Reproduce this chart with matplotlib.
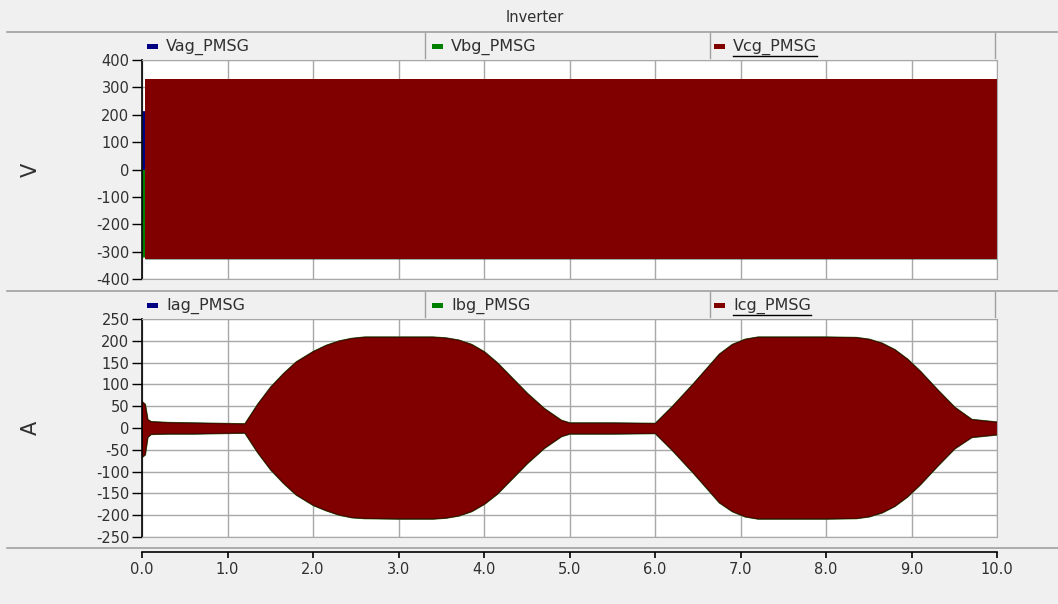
import matplotlib.pyplot as plt
from matplotlib.lines import Line2D
from matplotlib.patches import Rectangle

plt.rcParams['font.family'] = ['DejaVu Sans']

# phase voltage envelopes (V): short start-up transient, then steady +/-330 V
v_t = [0.0, 0.03, 0.035, 10.0]
vag_hi = [215, 215, 330, 330]
vag_lo = [-175, -175, -326, -326]
vbg_hi = [0, 0, 330, 330]
vbg_lo = [-320, -320, -326, -326]
vcg_t = [0.035, 10.0]
vcg_hi = [330, 330]
vcg_lo = [-326, -326]

# phase current envelopes (A)
i_t = [0.00, 0.03, 0.06, 0.10, 0.30, 0.60, 0.90, 1.20, 1.35, 1.50, 1.65, 1.80,
       2.00, 2.15, 2.30, 2.45, 2.60, 3.00, 3.40, 3.55, 3.70, 3.85, 4.00, 4.15,
       4.30, 4.50, 4.70, 4.90, 5.00, 5.50, 6.00, 6.20, 6.45, 6.75, 6.90, 7.05,
       7.20, 8.00, 8.35, 8.50, 8.65, 8.80, 8.95, 9.10, 9.30, 9.50, 9.70, 10.0]
i_hi = [60, 55, 20, 15, 13, 12, 11, 10, 55, 94, 125, 152,
        176, 190, 200, 206, 209, 209, 209, 207, 202, 192, 175, 150,
        120, 80, 45, 18, 12, 12, 11, 50, 103, 170, 192, 204,
        209, 209, 208, 204, 195, 180, 158, 130, 88, 48, 20, 14]
i_lo = [-65, -60, -20, -13, -12, -12, -11, -10, -55, -94, -125, -152,
        -176, -188, -198, -204, -206, -207, -207, -205, -200, -190, -173, -150,
        -120, -80, -45, -18, -12, -12, -11, -50, -103, -170, -190, -202,
        -207, -207, -206, -202, -193, -178, -156, -128, -86, -46, -20, -14]

names_v = ['Vag_PMSG', 'Vbg_PMSG', 'Vcg_PMSG']
names_i = ['Iag_PMSG', 'Ibg_PMSG', 'Icg_PMSG']
colors = ['#000080', '#008000', '#800000']
x_ticks = [0, 1, 2, 3, 4, 5, 6, 7, 8, 9, 10]
v_ticks = [-400, -300, -200, -100, 0, 100, 200, 300, 400]
i_ticks = [-250, -200, -150, -100, -50, 0, 50, 100, 150, 200, 250]

W, H = 1058, 604
BG = '#f0f0f0'
GRID = '#a8a8a8'
TXT = '#303030'
fig = plt.figure(figsize=(W / 100, H / 100), dpi=100, facecolor=BG)


def px_axes(x0, y0, x1, y1):
    return fig.add_axes([x0 / W, 1 - y1 / H, (x1 - x0) / W, (y1 - y0) / H])


def hline(y, x0=7, x1=W, color='#a0a0a0', lw=1.2):
    fig.add_artist(Line2D([x0 / W, x1 / W], [1 - y / H, 1 - y / H], color=color, lw=lw))


def vline(x, y0, y1, color='#a0a0a0', lw=1.0):
    fig.add_artist(Line2D([x / W, x / W], [1 - y0 / H, 1 - y1 / H], color=color, lw=lw))


def style(ax, yt, ylab):
    ax.set_facecolor('white')
    ax.set_xlim(0, 10)
    ax.set_ylim(yt[0], yt[-1])
    ax.set_xticks(x_ticks)
    ax.set_yticks(yt)
    ax.set_yticklabels([str(v) for v in yt])
    ax.tick_params(axis='x', length=0, labelbottom=False)
    ax.tick_params(axis='y', direction='out', length=7, width=1, color='black',
                   labelsize=10.5, labelcolor=TXT, pad=2)
    ax.grid(True, color=GRID, lw=1.0)
    ax.set_axisbelow(True)
    for s in ['top', 'right', 'bottom']:
        ax.spines[s].set_color(GRID)
    ax.spines['left'].set_color('black')
    ax.spines['left'].set_linewidth(1.2)
    ax.set_ylabel(ylab, fontsize=15, color=TXT, labelpad=0)
    ax.yaxis.set_label_coords(-0.118, 0.5)


def legend_row(y_top, y_bot, names):
    xs = [145, 430, 712]
    yc = (y_top + y_bot) / 2 + 1
    for k, (x, n) in enumerate(zip(xs, names)):
        fig.add_artist(Rectangle(((x + 2) / W, 1 - (yc + 2.5) / H), 11 / W, 5 / H,
                                 transform=fig.transFigure,
                                 facecolor=colors[k], edgecolor='none'))
        t = fig.text((x + 21) / W, 1 - yc / H, n, fontsize=11.5, color=TXT,
                     va='center', ha='left')
        if k == 2:
            fig.canvas.draw()
            bb = t.get_window_extent()
            fig.add_artist(Line2D([bb.x0 / W, bb.x1 / W], [(bb.y0 - 1) / H] * 2,
                                  color='black', lw=1.0))
    for x in [425, 710, 995]:
        vline(x, y_top, y_bot)


# header
fig.text(535 / W, 1 - 17 / H, 'Inverter', fontsize=10.5, color=TXT, ha='center', va='center')
hline(32)
hline(291)
hline(548)

# voltage panel
ax1 = px_axes(142, 60, 997, 279)
style(ax1, v_ticks, 'V')
ax1.fill_between(v_t, vag_lo, vag_hi, color=colors[0], lw=0)
ax1.fill_between(v_t, vbg_lo, vbg_hi, color=colors[1], lw=0)
ax1.fill_between(vcg_t, vcg_lo, vcg_hi, color=colors[2], lw=0)
legend_row(33, 58, names_v)

# current panel
ax2 = px_axes(142, 319, 997, 537)
style(ax2, i_ticks, 'A')
ax2.fill_between(i_t, i_lo, i_hi, facecolor=colors[0], edgecolor=colors[0], lw=0.8)
ax2.fill_between(i_t, i_lo, i_hi, facecolor=colors[1], edgecolor='#2e6b10', lw=1.4)
ax2.fill_between(i_t, i_lo, i_hi, facecolor=colors[2], edgecolor='#4a0000', lw=0.7)
legend_row(292, 317, names_i)

# shared time axis
ax3 = px_axes(142, 551, 997, 552)
ax3.set_facecolor('none')
for s in ['top', 'right', 'left']:
    ax3.spines[s].set_visible(False)
ax3.spines['bottom'].set_color('black')
ax3.spines['bottom'].set_linewidth(1.2)
ax3.set_xlim(0, 10)
ax3.set_yticks([])
ax3.set_xticks(x_ticks)
ax3.set_xticklabels(['%.1f' % v for v in x_ticks])
ax3.tick_params(axis='x', direction='out', length=4, width=1.2, color='black',
                labelsize=10.5, labelcolor=TXT, pad=3)

fig.savefig('out.png', dpi=100, facecolor=BG)
